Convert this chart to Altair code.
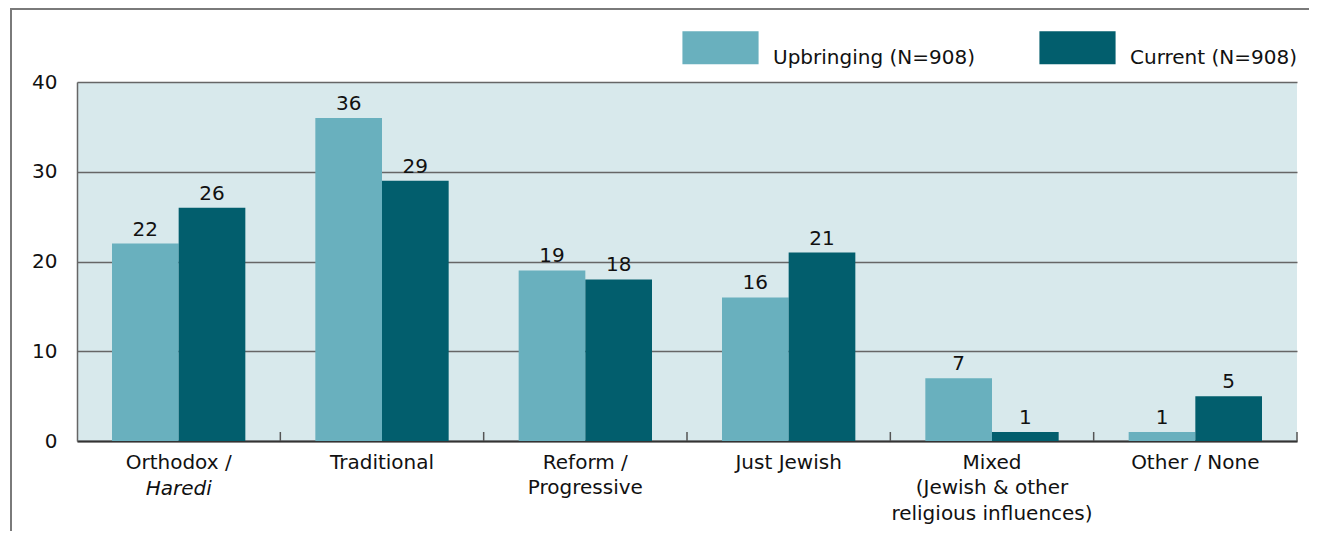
import altair as alt
import pandas as pd

categories = ["Orthodox / Haredi", "Traditional", "Reform / Progressive",
              "Just Jewish", "Mixed", "Other / None"]
axis_labels = ["Orthodox /", "Traditional", "Reform /|Progressive",
               "Just Jewish", "Mixed|(Jewish & other|religious influences)",
               "Other / None"]
series = ["Upbringing (N=908)", "Current (N=908)"]
upbringing = [22, 36, 19, 16, 7, 1]
current = [26, 29, 18, 21, 1, 5]
colors = ["#69b0be", "#025e6d"]

rows = []
for c, u, k in zip(categories, upbringing, current):
    rows.append({"category": c, "series": series[0], "value": u})
    rows.append({"category": c, "series": series[1], "value": k})
df = pd.DataFrame(rows)
cat_df = pd.DataFrame({"category": categories})
italic_df = pd.DataFrame({"category": [categories[0]], "txt": ["Haredi"]})
one = pd.DataFrame({"k": [0]})

W, H = 1220, 359
FONT = "DejaVu Sans"
FS = 20

label_map = "{" + ",".join(f"'{c}':'{l}'" for c, l in zip(categories, axis_labels)) + "}"

x_enc = alt.X("category:N", sort=categories,
              scale=alt.Scale(paddingInner=0, paddingOuter=0),
              axis=alt.Axis(title=None, labelAngle=0, ticks=False, labelLimit=0,
                            labelExpr=f"split({label_map}[datum.label], '|')",
                            labelFont=FONT, labelFontSize=FS, labelColor="#111",
                            labelLineHeight=25.5, labelPadding=11,
                            labelBaseline="top",
                            domainColor="#333", domainWidth=2))
xoff = alt.XOffset("series:N", sort=series,
                   scale=alt.Scale(paddingOuter=0.525, paddingInner=0))
y_enc = alt.Y("value:Q", scale=alt.Scale(domain=[0, 40]),
              axis=alt.Axis(title=None, values=[0, 10, 20, 30, 40], ticks=False,
                            labelPadding=20, labelFont=FONT, labelFontSize=FS,
                            labelColor="#111", grid=True, gridColor="#666666",
                            gridWidth=1.5, domainColor="#666666", domainWidth=1.5))

bars = alt.Chart(df).mark_bar().encode(
    x=x_enc, xOffset=xoff, y=y_enc,
    color=alt.Color("series:N", sort=series,
                    scale=alt.Scale(domain=series, range=colors),
                    legend=alt.Legend(title=None, orient="none", direction="horizontal",
                                      legendX=605, legendY=-73, padding=0,
                                      symbolType="M-1,-0.434H1V0.434H-1Z",
                                      symbolSize=5800, symbolStrokeWidth=0,
                                      symbolOpacity=1, labelLimit=0,
                                      labelFont=FONT, labelFontSize=FS,
                                      labelColor="#111", labelBaseline="top",
                                      labelOffset=14, columnPadding=64)),
)

labels = alt.Chart(df).mark_text(baseline="alphabetic", dy=-8, font=FONT,
                                 fontSize=FS, color="#111").encode(
    x=alt.X("category:N", sort=categories), xOffset=alt.XOffset("series:N", sort=series),
    y="value:Q", text="value:Q")

haredi = alt.Chart(italic_df).mark_text(font=FONT, fontSize=FS, fontStyle="italic",
                                        color="#111", baseline="middle").encode(
    x=alt.X("category:N", sort=categories), y=alt.value(H + 48), text="txt:N")

ticks = alt.Chart(cat_df).mark_rule(color="#555", strokeWidth=1.5).encode(
    x=alt.X("category:N", sort=categories, bandPosition=1),
    y=alt.value(H - 9), y2=alt.value(H))

frame_left = alt.Chart(one).mark_rule(color="#7a7a7a", strokeWidth=2).encode(
    x=alt.value(-66), y=alt.value(-73), y2=alt.value(H + 120))
frame_top = alt.Chart(one).mark_rule(color="#7a7a7a", strokeWidth=2).encode(
    x=alt.value(-67), x2=alt.value(W + 20), y=alt.value(-73))

chart = alt.layer(frame_left, frame_top, bars, ticks, labels, haredi).properties(
    width=W, height=H,
    padding={"left": 69, "top": 74, "right": 12, "bottom": 90},
    autosize=alt.AutoSizeParams(type="none"),
    background="white",
).configure_view(fill="#d8e9ec", stroke=None)

chart.save("out.html", embed_options={"renderer": "svg", "actions": False})
